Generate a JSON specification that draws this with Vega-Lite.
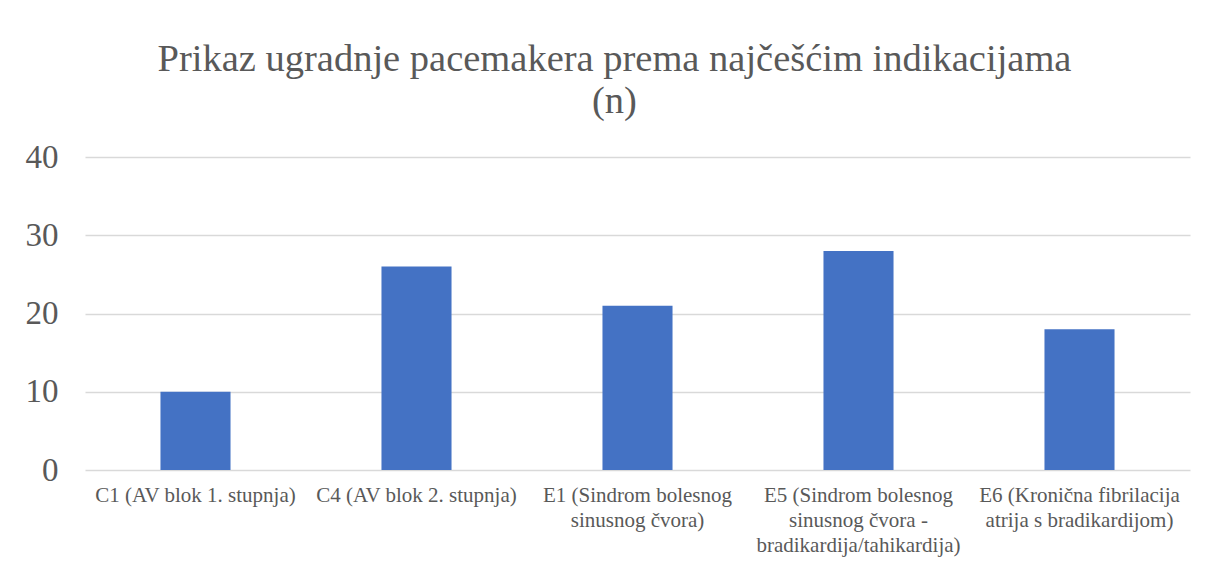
{
  "$schema": "https://vega.github.io/schema/vega-lite/v6.json",
  "autosize": "none",
  "width": 1105,
  "height": 313,
  "padding": {"left": 85, "top": 157, "right": 18, "bottom": 93},
  "background": "white",
  "config": {
    "font": "Times New Roman, Liberation Serif, DejaVu Serif, serif",
    "view": {"stroke": null}
  },
  "title": {
    "text": ["Prikaz ugradnje pacemakera prema najčešćim indikacijama", "(n)"],
    "fontSize": 38.5,
    "fontWeight": "normal",
    "color": "#595959",
    "font": "Times New Roman, Liberation Serif, DejaVu Serif, serif",
    "lineHeight": 42,
    "offset": 20,
    "dx": -23,
    "anchor": "middle"
  },
  "data": {
    "values": [
      {"indikacija": "C1 (AV blok 1. stupnja)", "n": 10},
      {"indikacija": "C4 (AV blok 2. stupnja)", "n": 26},
      {"indikacija": "E1 (Sindrom bolesnog sinusnog čvora)", "n": 21},
      {"indikacija": "E5 (Sindrom bolesnog sinusnog čvora - bradikardija/tahikardija)", "n": 28},
      {"indikacija": "E6 (Kronična fibrilacija atrija s bradikardijom)", "n": 18}
    ]
  },
  "mark": {"type": "bar", "color": "#4472C4"},
  "encoding": {
    "x": {
      "field": "indikacija",
      "type": "nominal",
      "sort": null,
      "scale": {"paddingInner": 0.683, "paddingOuter": 0.3415},
      "axis": {
        "title": null,
        "labelAngle": 0,
        "labelFontSize": 21,
        "labelColor": "#595959",
        "labelFont": "Times New Roman, Liberation Serif, DejaVu Serif, serif",
        "labelLineHeight": 25,
        "labelPadding": 14,
        "labelLimit": 0,
        "ticks": false,
        "domain": false,
        "labelExpr": "datum.value == 'E1 (Sindrom bolesnog sinusnog čvora)' ? ['E1 (Sindrom bolesnog', 'sinusnog čvora)'] : datum.value == 'E5 (Sindrom bolesnog sinusnog čvora - bradikardija/tahikardija)' ? ['E5 (Sindrom bolesnog', 'sinusnog čvora -', 'bradikardija/tahikardija)'] : datum.value == 'E6 (Kronična fibrilacija atrija s bradikardijom)' ? ['E6 (Kronična fibrilacija', 'atrija s bradikardijom)'] : datum.value"
      }
    },
    "y": {
      "field": "n",
      "type": "quantitative",
      "scale": {"domain": [0, 40]},
      "axis": {
        "title": null,
        "values": [0, 10, 20, 30, 40],
        "labelFontSize": 33,
        "labelColor": "#595959",
        "labelFont": "Times New Roman, Liberation Serif, DejaVu Serif, serif",
        "labelPadding": 27,
        "ticks": false,
        "domain": false,
        "gridColor": "#d9d9d9",
        "gridWidth": 1.3
      }
    }
  }
}
